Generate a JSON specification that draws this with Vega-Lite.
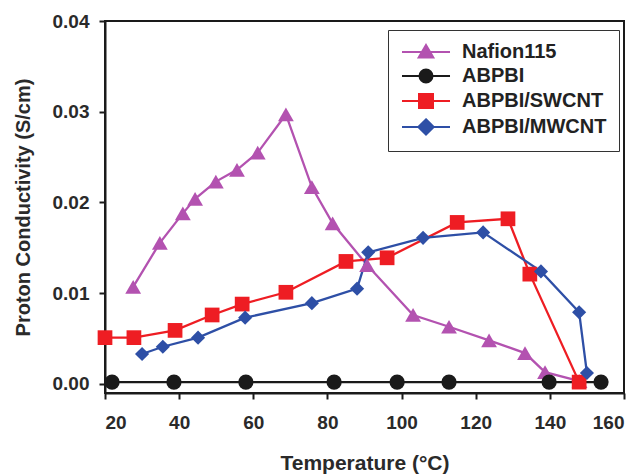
{
  "$schema": "https://vega.github.io/schema/vega-lite/v6.json",
  "width": 519,
  "height": 372,
  "autosize": "none",
  "padding": {"left": 105, "top": 21, "right": 19, "bottom": 81},
  "background": "white",
  "config": {
    "font": "Liberation Sans",
    "view": {"stroke": "#1a1a1a", "strokeWidth": 2},
    "axis": {
      "domainColor": "#1a1a1a", "domainWidth": 2,
      "tickColor": "#1a1a1a", "tickWidth": 2, "tickSize": 6,
      "labelFont": "Liberation Sans", "labelFontWeight": "bold", "labelFontSize": 19, "labelColor": "#2a2a2a",
      "titleFont": "Liberation Sans", "titleFontWeight": "bold", "titleColor": "#2a2a2a",
      "grid": false
    },
    "legend": {
      "orient": "none", "legendX": 283, "legendY": 9,
      "padding": 12, "strokeColor": "#333", "fillColor": "white",
      "labelFont": "Liberation Sans", "labelFontWeight": "bold", "labelFontSize": 20, "labelColor": "#222",
      "symbolSize": 196, "symbolOffset": 16, "labelOffset": 26, "rowPadding": 3,
      "symbolStrokeWidth": 2, "symbolOpacity": 1
    }
  },
  "data": {"values": [
    {"series": "Nafion115", "t": 27.6, "s": 0.0107},
    {"series": "Nafion115", "t": 34.8, "s": 0.01555},
    {"series": "Nafion115", "t": 41.0, "s": 0.0188},
    {"series": "Nafion115", "t": 44.3, "s": 0.0204},
    {"series": "Nafion115", "t": 49.9, "s": 0.0223},
    {"series": "Nafion115", "t": 55.6, "s": 0.0236},
    {"series": "Nafion115", "t": 61.2, "s": 0.0255},
    {"series": "Nafion115", "t": 68.8, "s": 0.0297},
    {"series": "Nafion115", "t": 75.8, "s": 0.0217},
    {"series": "Nafion115", "t": 81.4, "s": 0.0177},
    {"series": "Nafion115", "t": 90.7, "s": 0.0131},
    {"series": "Nafion115", "t": 103.1, "s": 0.0076},
    {"series": "Nafion115", "t": 112.8, "s": 0.0063},
    {"series": "Nafion115", "t": 123.6, "s": 0.0048},
    {"series": "Nafion115", "t": 133.3, "s": 0.0034},
    {"series": "Nafion115", "t": 138.7, "s": 0.0013},
    {"series": "Nafion115", "t": 148.0, "s": 0.0003},
    {"series": "ABPBI", "t": 21.9, "s": 0.0002},
    {"series": "ABPBI", "t": 38.6, "s": 0.0002},
    {"series": "ABPBI", "t": 58.0, "s": 0.0002},
    {"series": "ABPBI", "t": 81.8, "s": 0.0002},
    {"series": "ABPBI", "t": 98.8, "s": 0.0002},
    {"series": "ABPBI", "t": 112.8, "s": 0.0002},
    {"series": "ABPBI", "t": 139.8, "s": 0.0002},
    {"series": "ABPBI", "t": 153.8, "s": 0.0002},
    {"series": "ABPBI/SWCNT", "t": 20.0, "s": 0.0051},
    {"series": "ABPBI/SWCNT", "t": 27.8, "s": 0.0051},
    {"series": "ABPBI/SWCNT", "t": 38.9, "s": 0.0059},
    {"series": "ABPBI/SWCNT", "t": 48.9, "s": 0.0076},
    {"series": "ABPBI/SWCNT", "t": 57.0, "s": 0.0088},
    {"series": "ABPBI/SWCNT", "t": 68.8, "s": 0.0101},
    {"series": "ABPBI/SWCNT", "t": 85.0, "s": 0.0135},
    {"series": "ABPBI/SWCNT", "t": 96.1, "s": 0.0139},
    {"series": "ABPBI/SWCNT", "t": 115.0, "s": 0.0178},
    {"series": "ABPBI/SWCNT", "t": 128.7, "s": 0.0182},
    {"series": "ABPBI/SWCNT", "t": 134.6, "s": 0.0121},
    {"series": "ABPBI/SWCNT", "t": 147.9, "s": 0.0002},
    {"series": "ABPBI/MWCNT", "t": 30.0, "s": 0.0033},
    {"series": "ABPBI/MWCNT", "t": 35.6, "s": 0.0041},
    {"series": "ABPBI/MWCNT", "t": 45.1, "s": 0.0051},
    {"series": "ABPBI/MWCNT", "t": 57.8, "s": 0.0073},
    {"series": "ABPBI/MWCNT", "t": 75.8, "s": 0.0089},
    {"series": "ABPBI/MWCNT", "t": 88.0, "s": 0.0105},
    {"series": "ABPBI/MWCNT", "t": 91.0, "s": 0.0145},
    {"series": "ABPBI/MWCNT", "t": 105.8, "s": 0.0161},
    {"series": "ABPBI/MWCNT", "t": 122.0, "s": 0.0167},
    {"series": "ABPBI/MWCNT", "t": 137.6, "s": 0.0124},
    {"series": "ABPBI/MWCNT", "t": 147.9, "s": 0.0079},
    {"series": "ABPBI/MWCNT", "t": 150.0, "s": 0.0012}
  ]},
  "encoding": {
    "x": {"field": "t", "type": "quantitative", "title": "Temperature (°C)",
      "scale": {"domain": [20, 160], "nice": false, "zero": false},
      "axis": {"values": [20, 40, 60, 80, 100, 120, 140, 160], "labelPadding": 14, "titlePadding": 20, "titleFontSize": 21}},
    "y": {"field": "s", "type": "quantitative", "title": "Proton Conductivity (S/cm)",
      "scale": {"domain": [-0.001, 0.04], "nice": false, "zero": false},
      "axis": {"values": [0, 0.01, 0.02, 0.03, 0.04], "format": ".2f", "labelPadding": 10, "titlePadding": 19, "titleFontSize": 20}}
  },
  "resolve": {"scale": {"color": "independent", "shape": "independent", "size": "independent", "stroke": "independent"}},
  "layer": [
    {"mark": {"type": "line", "strokeWidth": 2.3},
     "encoding": {
       "order": {"field": "t", "type": "quantitative"},
       "color": {"field": "series", "type": "nominal",
         "scale": {"domain": ["Nafion115", "ABPBI", "ABPBI/SWCNT", "ABPBI/MWCNT"],
                   "range": ["#B352B0", "#1a1a1a", "#EE1D23", "#2E4FA6"]},
         "legend": null}
     }},
    {"mark": {"type": "point", "filled": true, "opacity": 1},
     "encoding": {
       "color": {"field": "series", "type": "nominal",
         "scale": {"domain": ["Nafion115", "ABPBI", "ABPBI/SWCNT", "ABPBI/MWCNT"],
                   "range": ["#B352B0", "#1a1a1a", "#EE1D23", "#2E4FA6"]},
         "legend": null},
       "shape": {"field": "series", "type": "nominal",
         "scale": {"domain": ["Nafion115", "ABPBI", "ABPBI/SWCNT", "ABPBI/MWCNT"],
                   "range": ["triangle-up", "circle", "square", "diamond"]},
         "legend": null},
       "size": {"field": "series", "type": "nominal",
         "scale": {"domain": ["Nafion115", "ABPBI", "ABPBI/SWCNT", "ABPBI/MWCNT"],
                   "range": [250, 200, 210, 280]},
         "legend": null}
     }},
    {"mark": {"type": "point", "filled": true, "opacity": 0},
     "encoding": {
       "color": {"field": "series", "type": "nominal", "title": null,
         "scale": {"domain": ["Nafion115", "ABPBI", "ABPBI/SWCNT", "ABPBI/MWCNT"],
                   "range": ["#B352B0", "#1a1a1a", "#EE1D23", "#2E4FA6"]}},
       "stroke": {"field": "series", "type": "nominal", "title": null,
         "scale": {"domain": ["Nafion115", "ABPBI", "ABPBI/SWCNT", "ABPBI/MWCNT"],
                   "range": ["#B352B0", "#1a1a1a", "#EE1D23", "#2E4FA6"]}},
       "shape": {"field": "series", "type": "nominal", "title": null,
         "scale": {"domain": ["Nafion115", "ABPBI", "ABPBI/SWCNT", "ABPBI/MWCNT"],
                   "range": ["M-3.43,0H3.43M0,-1L1.05,0.8L-1.05,0.8Z", "M-3.43,0H3.43M-0.93,0A0.93,0.93,0,1,1,0.93,0A0.93,0.93,0,1,1,-0.93,0Z", "M-3.43,0H3.43M-1,-1H1V1H-1Z", "M-3.43,0H3.43M0,-1.1L1.1,0L0,1.1L-1.1,0Z"]}}
     }}
  ]
}
